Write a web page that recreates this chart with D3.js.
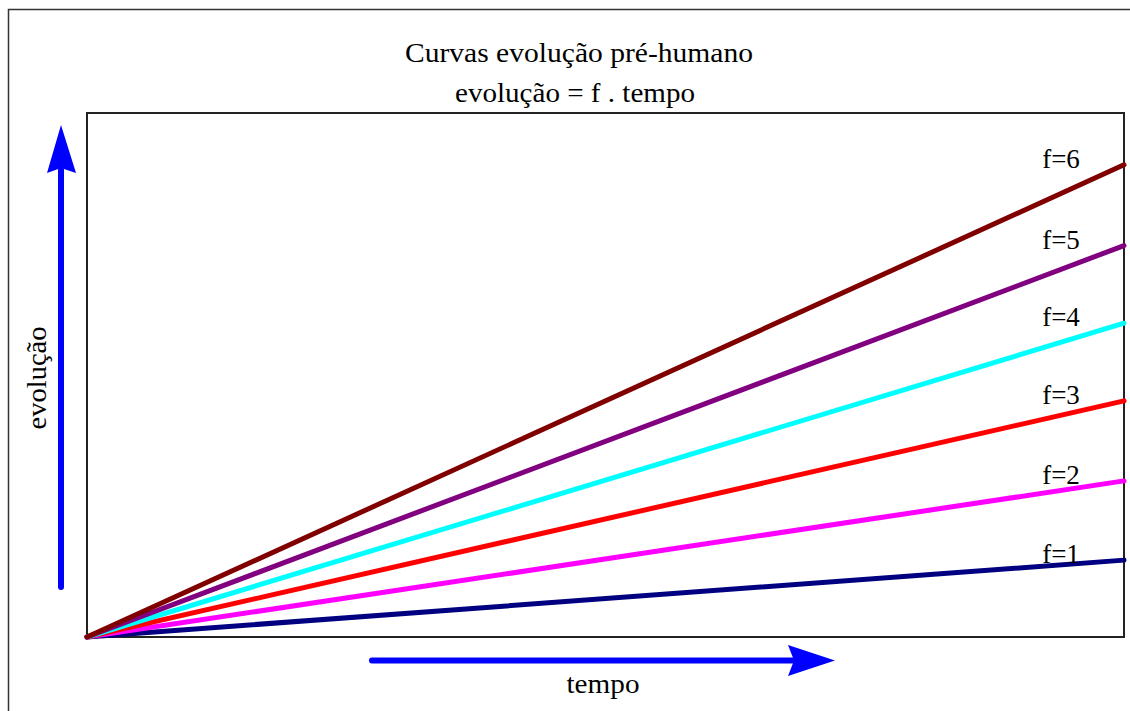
<!DOCTYPE html>
<html>
<head>
<meta charset="utf-8">
<script src="https://cdn.jsdelivr.net/npm/d3@7"></script>
<style>
  body { margin: 0; background: #fff; }
</style>
</head>
<body>
<svg width="1130" height="711"></svg>
<script>
// values: evolução at tempo = 0 and tempo = 1
var fLabels = ['f=1', 'f=2', 'f=3', 'f=4', 'f=5', 'f=6']
var tempo = [0, 1]
var startValues = [0, 0, 0, 0, 0, 0]
var endValues = [0.98, 1.99, 3.01, 4.0, 4.99, 6.02]
var lineColors = ['#000080', '#ff00ff', '#ff0000', '#00ffff', '#800080', '#800000']

var serif = '"Liberation Serif", "Times New Roman", serif'
var svg = d3.select('svg')
var margin = { left: 87, top: 113, right: 1124, bottom: 637 }

var x = d3.scaleLinear().domain([0, 1]).range([margin.left, margin.right])
var y = d3.scaleLinear().domain([0, 6.68]).range([margin.bottom, margin.top])

// outer frame
svg.append('rect')
  .attr('x', 8.5).attr('y', 9.5)
  .attr('width', 1140).attr('height', 720)
  .attr('fill', 'none').attr('stroke', '#333').attr('stroke-width', 1.5)

// plot frame
svg.append('rect')
  .attr('x', margin.left).attr('y', margin.top)
  .attr('width', margin.right - margin.left).attr('height', margin.bottom - margin.top)
  .attr('fill', 'none').attr('stroke', '#222').attr('stroke-width', 2)

var series = fLabels.map(function (name, i) {
  return { name: name, color: lineColors[i], values: [startValues[i], endValues[i]] }
})

var line = d3.line()
  .x(function (d, i) { return x(tempo[i]) })
  .y(function (d) { return y(d) })

svg.append('g')
  .selectAll('path')
  .data(series)
  .enter()
  .append('path')
  .attr('d', function (d) { return line(d.values) })
  .attr('fill', 'none')
  .attr('stroke', function (d) { return d.color })
  .attr('stroke-width', 5)
  .attr('stroke-linecap', 'round')

svg.append('g')
  .selectAll('text')
  .data(series)
  .enter()
  .append('text')
  .attr('x', 1061)
  .attr('y', function (d) { return y(d.values[1]) + 3 })
  .attr('text-anchor', 'middle')
  .attr('font-family', serif)
  .attr('font-size', 27)
  .text(function (d) { return d.name })

// title (reference text is a bit stretched sideways)
svg.append('text')
  .attr('x', 579).attr('y', 62)
  .attr('text-anchor', 'middle')
  .attr('font-family', serif)
  .attr('font-size', 28)
  .attr('textLength', 348).attr('lengthAdjust', 'spacingAndGlyphs')
  .text('Curvas evolução pré-humano')
svg.append('text')
  .attr('x', 575).attr('y', 102)
  .attr('text-anchor', 'middle')
  .attr('font-family', serif)
  .attr('font-size', 28)
  .attr('textLength', 240).attr('lengthAdjust', 'spacingAndGlyphs')
  .text('evolução = f . tempo')

// blue arrows
svg.append('line')
  .attr('x1', 61).attr('y1', 587).attr('x2', 61).attr('y2', 170)
  .attr('stroke', '#0000ff').attr('stroke-width', 6).attr('stroke-linecap', 'round')
svg.append('path')
  .attr('d', 'M61,125 L76,173 L61,168 L47,173 Z')
  .attr('fill', '#0000ff')

svg.append('line')
  .attr('x1', 372).attr('y1', 660.5).attr('x2', 795).attr('y2', 660.5)
  .attr('stroke', '#0000ff').attr('stroke-width', 6).attr('stroke-linecap', 'round')
svg.append('path')
  .attr('d', 'M835,660.5 L788,645 L794,660.5 L788,676 Z')
  .attr('fill', '#0000ff')

// axis titles
svg.append('text')
  .attr('x', 603).attr('y', 693)
  .attr('text-anchor', 'middle')
  .attr('font-family', serif)
  .attr('font-size', 27)
  .attr('textLength', 73).attr('lengthAdjust', 'spacingAndGlyphs')
  .text('tempo')
svg.append('text')
  .attr('transform', 'translate(46,378) rotate(-90)')
  .attr('text-anchor', 'middle')
  .attr('font-family', serif)
  .attr('font-size', 27)
  .attr('textLength', 103).attr('lengthAdjust', 'spacingAndGlyphs')
  .text('evolução')
</script>
</body>
</html>
